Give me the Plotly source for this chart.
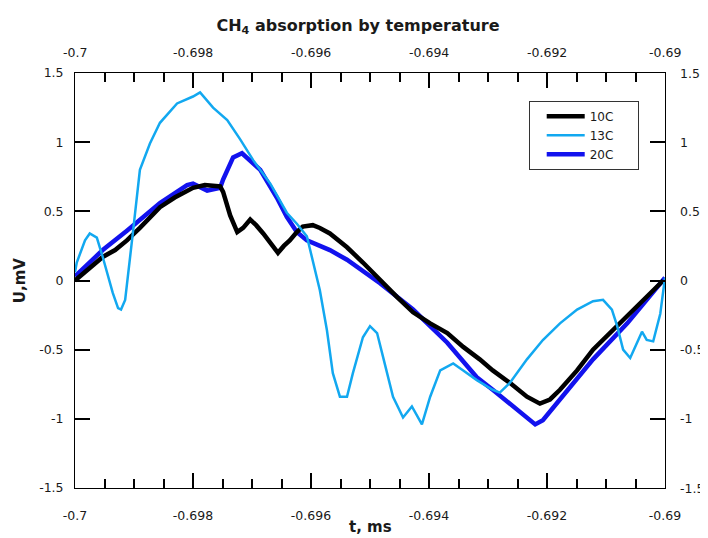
import plotly.graph_objects as go

# ---------------- data ----------------
t_10c = [-0.70000, -0.69975, -0.69953, -0.69932, -0.69912, -0.69890, -0.69856, -0.69831,
         -0.69800, -0.69780, -0.69754, -0.69749, -0.69737, -0.69725, -0.69715, -0.69703,
         -0.69693, -0.69681, -0.69669, -0.69656, -0.69646, -0.69636, -0.69624, -0.69614,
         -0.69597, -0.69585, -0.69568, -0.69539, -0.69512, -0.69483, -0.69454, -0.69427,
         -0.69398, -0.69369, -0.69342, -0.69314, -0.69292, -0.69263, -0.69234, -0.69212,
         -0.69195, -0.69178, -0.69149, -0.69122, -0.69093, -0.69064, -0.69037, -0.69003]
u_10c = [0.00, 0.09, 0.17, 0.22, 0.29, 0.38, 0.53, 0.60,
         0.67, 0.69, 0.68, 0.64, 0.47, 0.35, 0.38, 0.44,
         0.40, 0.34, 0.27, 0.20, 0.25, 0.29, 0.35, 0.39,
         0.40, 0.38, 0.34, 0.24, 0.13, 0.00, -0.12, -0.23,
         -0.31, -0.38, -0.48, -0.57, -0.65, -0.74, -0.84, -0.89,
         -0.86, -0.79, -0.65, -0.50, -0.38, -0.26, -0.14, 0.00]

t_13c = [-0.70000, -0.69997, -0.69983, -0.69975, -0.69963, -0.69953, -0.69936, -0.69927,
         -0.69922, -0.69915, -0.69902, -0.69890, -0.69873, -0.69856, -0.69827, -0.69800,
         -0.69788, -0.69766, -0.69742, -0.69720, -0.69698, -0.69669, -0.69641, -0.69624,
         -0.69607, -0.69597, -0.69585, -0.69573, -0.69563, -0.69551, -0.69539, -0.69529,
         -0.69512, -0.69500, -0.69488, -0.69478, -0.69461, -0.69444, -0.69429, -0.69412,
         -0.69398, -0.69381, -0.69359, -0.69342, -0.69319, -0.69292, -0.69280, -0.69263,
         -0.69234, -0.69207, -0.69178, -0.69149, -0.69122, -0.69105, -0.69090, -0.69081,
         -0.69071, -0.69059, -0.69047, -0.69039, -0.69031, -0.69020, -0.69008, -0.69003,
         -0.69000]
u_13c = [0.06, 0.13, 0.29, 0.34, 0.31, 0.17, -0.09, -0.20,
         -0.21, -0.14, 0.34, 0.80, 0.99, 1.14, 1.28, 1.33,
         1.36, 1.25, 1.16, 1.02, 0.87, 0.70, 0.49, 0.41,
         0.32, 0.15, -0.07, -0.36, -0.67, -0.84, -0.84, -0.67,
         -0.41, -0.33, -0.38, -0.55, -0.84, -0.99, -0.91, -1.04,
         -0.84, -0.65, -0.60, -0.65, -0.72, -0.79, -0.81, -0.74,
         -0.57, -0.43, -0.31, -0.21, -0.15, -0.14, -0.21, -0.33,
         -0.50, -0.56, -0.45, -0.37, -0.43, -0.44, -0.24, -0.05,
         0.02]

t_20c = [-0.70000, -0.69953, -0.69912, -0.69856, -0.69810, -0.69800, -0.69776, -0.69754,
         -0.69749, -0.69732, -0.69717, -0.69686, -0.69658, -0.69641, -0.69624, -0.69607,
         -0.69568, -0.69539, -0.69483, -0.69427, -0.69369, -0.69319, -0.69292, -0.69234,
         -0.69220, -0.69207, -0.69178, -0.69122, -0.69064, -0.69008, -0.69000]
u_20c = [0.03, 0.22, 0.36, 0.56, 0.69, 0.70, 0.65, 0.67,
         0.73, 0.89, 0.92, 0.80, 0.60, 0.46, 0.35, 0.29,
         0.22, 0.15, -0.02, -0.21, -0.45, -0.70, -0.79, -0.99,
         -1.04, -1.01, -0.86, -0.57, -0.31, -0.02, 0.02]

series_names = ["10C", "13C", "20C"]

x_range = [-0.7, -0.69]
y_range = [-1.5, 1.5]
x_tick_vals = [-0.7, -0.698, -0.696, -0.694, -0.692, -0.69]
x_tick_text = ["-0.7", "-0.698", "-0.696", "-0.694", "-0.692", "-0.69"]
y_tick_vals = [-1.5, -1, -0.5, 0, 0.5, 1, 1.5]
y_tick_text = ["-1.5", "-1", "-0.5", "0", "0.5", "1", "1.5"]

# ---------------- styling ----------------
FONT = "DejaVu Sans"
TXT = "#1a1a1a"
c_10 = "#000000"
c_13 = "#12a8f0"
c_20 = "#1212ee"
NB = "\u00a0"
tickfont = dict(family=FONT, size=12.5, color=TXT)

fig = go.Figure()

# draw order: 20C, 10C, 13C ; legend order via legendrank
fig.add_trace(go.Scatter(x=t_20c, y=u_20c, mode="lines", line=dict(color=c_20, width=4.5),
                         name=series_names[2] + NB * 5, legendrank=3))
fig.add_trace(go.Scatter(x=t_10c, y=u_10c, mode="lines", line=dict(color=c_10, width=4.5),
                         name=series_names[0] + NB * 5, legendrank=1))
fig.add_trace(go.Scatter(x=t_13c, y=u_13c, mode="lines", line=dict(color=c_13, width=2.5),
                         name=series_names[1] + NB * 5, legendrank=2))

# tick labels on the top and right sides (mirrored axes)
annotations = []
for v, s in zip(x_tick_vals, x_tick_text):
    annotations.append(dict(text=s, xref="x", yref="paper", x=v, y=1, yshift=21,
                            xanchor="center", yanchor="middle", showarrow=False,
                            font=tickfont))
for v, s in zip(y_tick_vals, y_tick_text):
    annotations.append(dict(text=s, xref="paper", yref="y", x=1, y=v, xshift=13,
                            xanchor="left", yanchor="middle", showarrow=False,
                            font=tickfont))
annotations += [
    dict(text="<b>t, ms</b>", xref="paper", yref="paper", x=0.5, y=-0.094,
         xanchor="center", yanchor="middle", showarrow=False,
         font=dict(family=FONT, size=15, color=TXT)),
    dict(text="<b>U,mV</b>", xref="paper", yref="paper", x=-0.093, y=0.501,
         xanchor="center", yanchor="middle", textangle=-90, showarrow=False,
         font=dict(family=FONT, size=15, color=TXT)),
]

fig.update_layout(
    width=700, height=530,
    margin=dict(l=67, r=43, t=65, b=50),
    paper_bgcolor="white", plot_bgcolor="white",
    font=dict(family=FONT, size=12, color=TXT),
    title=dict(text="<b>CH<sub>4</sub> absorption by temperature</b>",
               x=0.5, xref="container", xanchor="center",
               y=1 - 17 / 530, yref="container", yanchor="middle",
               font=dict(family=FONT, size=16, color=TXT)),
    xaxis=dict(range=x_range, tickmode="array", tickvals=x_tick_vals,
               ticktext=["<br>" + s for s in x_tick_text],
               ticks="inside", ticklen=15, tickwidth=1.5, tickcolor="black",
               showline=True, linecolor="black", mirror="ticks", tickfont=tickfont,
               minor=dict(ticks="inside", dtick=0.0005, tick0=-0.7, ticklen=9,
                          tickwidth=1.5, tickcolor="black")),
    yaxis=dict(range=y_range, tickmode="array", tickvals=y_tick_vals,
               ticktext=[s + NB * 2 for s in y_tick_text],
               ticks="inside", ticklen=15, tickwidth=1.5, tickcolor="black",
               showline=True, linecolor="black", mirror="ticks", tickfont=tickfont),
    legend=dict(x=0.769, y=0.933, xanchor="left", yanchor="top",
                bgcolor="white", bordercolor="#333333", borderwidth=1,
                font=dict(family=FONT, size=12, color=TXT),
                itemwidth=38, indentation=12, tracegroupgap=3),
    annotations=annotations,
)

fig.write_html("out.html")
